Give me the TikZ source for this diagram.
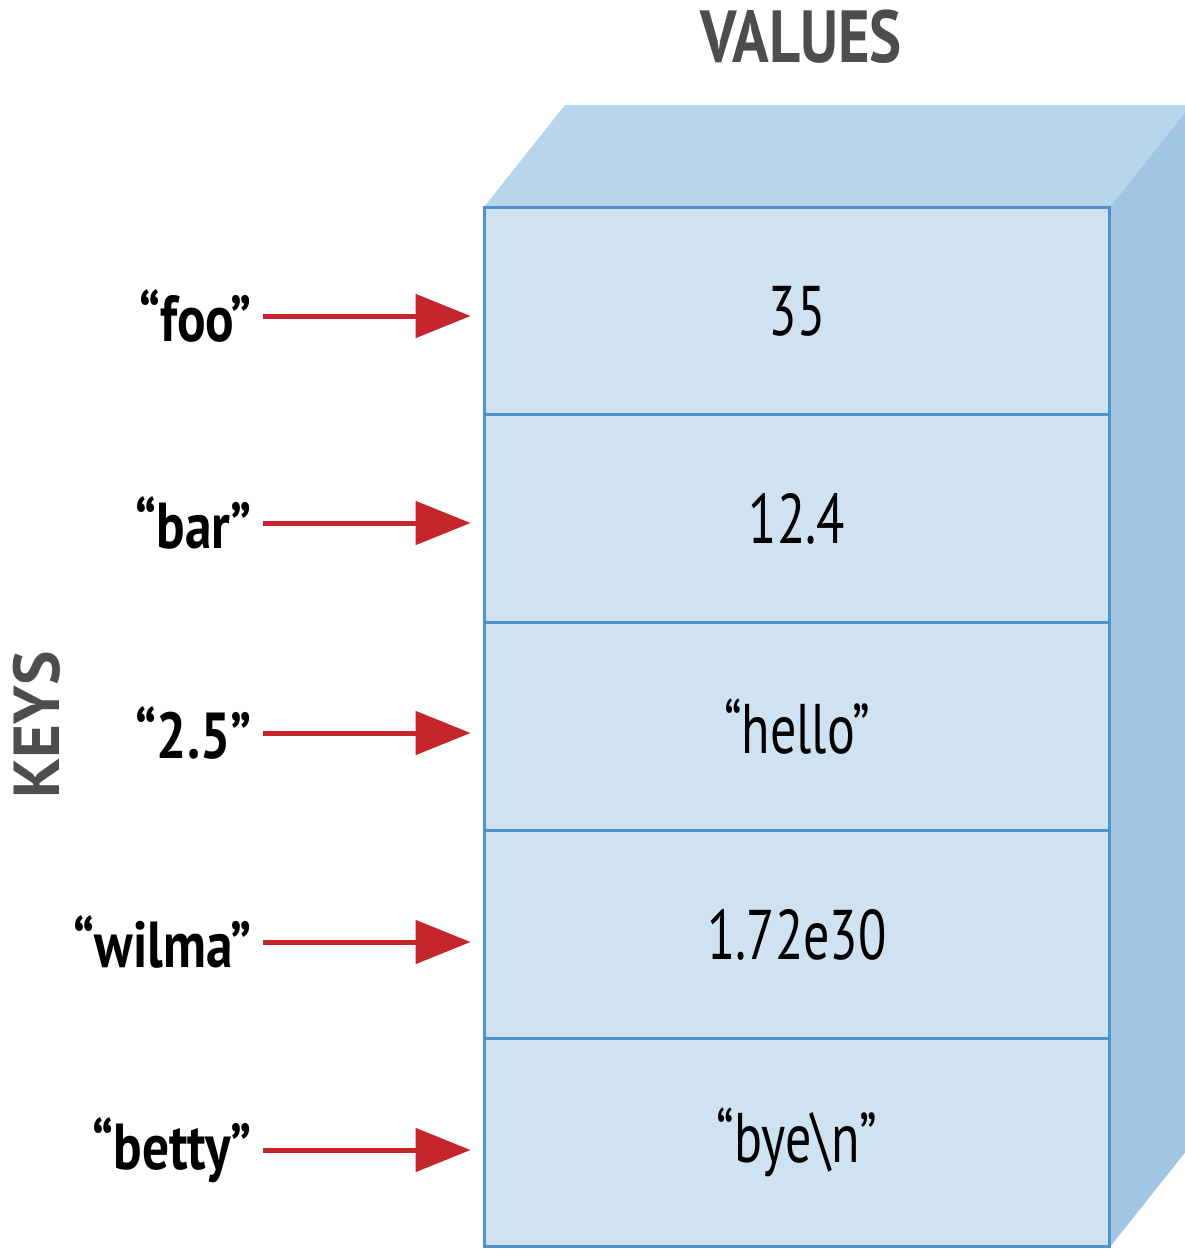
\documentclass[tikz,border=0pt]{standalone}
\usepackage{fontspec}
\setmainfont{PT Sans}[FakeStretch=0.82]
\newfontfamily\cellfont{PT Sans}[FakeStretch=0.74]
\newfontfamily\widefont{PT Sans}
\usetikzlibrary{arrows.meta,positioning}

\definecolor{frontblue}{HTML}{CFE2F1}
\definecolor{topblue}{HTML}{B7D5EB}
\definecolor{sideblue}{HTML}{A1C5E3}
\definecolor{edgeblue}{HTML}{4E92C8}
\definecolor{arrowred}{HTML}{C5262C}
\definecolor{labelgrey}{HTML}{4D4D4D}

\begin{document}
\begin{tikzpicture}[x=0.02cm,y=-0.02cm,node distance=4.16cm,
                    >={Triangle[length=1.1cm,width=0.86cm]}]
  \tikzstyle{cell}=[draw=edgeblue,fill=frontblue,line width=1.7pt,
                    minimum width=12.52cm,minimum height=4.16cm,inner sep=0pt,
                    font=\cellfont\fontsize{40}{40}\selectfont]
  \tikzstyle{key}=[anchor=east,inner sep=0pt,
                   font=\bfseries\fontsize{37}{37}\selectfont]
  \tikzstyle{title}=[text=labelgrey,inner sep=0pt,
                     font=\bfseries\fontsize{42}{42}\selectfont]
  \tikzstyle{pointer}=[draw=arrowred,line width=0.1cm,->,
                       shorten <=0.22cm,shorten >=0.24cm]

  \clip (0,0) rectangle (1185,1249);

  % the box behind the cells: top and right faces
  \fill[topblue] (484,207) -- (565,105) -- (1191,105) -- (1110,207) -- cycle;
  \fill[sideblue] (1110,207) -- (1191,105) -- (1191,1145) -- (1110,1247) -- cycle;

  \node[cell] (c1) at (797,311) {35};
  \node[cell] (c2) [below of=c1] {12.4};
  \node[cell] (c3) [below of=c2] {“hello”};
  \node[cell] (c4) [below of=c3] {1.72e30};
  \node[cell] (c5) [below of=c4] {“bye\textbackslash n”};

  \node[key] (k1) at (252,316) {“foo”};
  \node[key] (k2) at (252,523) {“bar”};
  \node[key] (k3) at (252,733) {“2.5”};
  \node[key] (k4) at (252,942) {“wilma”};
  \node[key] (k5) at (252,1150) {“betty”};

  \path
        (k1.east) edge [pointer] (k1.east -| c1.west)
        (k2.east) edge [pointer] (k2.east -| c2.west)
        (k3.east) edge [pointer] (k3.east -| c3.west)
        (k4.east) edge [pointer] (k4.east -| c4.west)
        (k5.east) edge [pointer] (k5.east -| c5.west);

  \node[title] (vals) at (801,37) {VALUES};
  \node[title,rotate=90,font=\widefont\bfseries\fontsize{37}{37}\selectfont] (keys) at (37,725) {KEYS};
\end{tikzpicture}
\end{document}
